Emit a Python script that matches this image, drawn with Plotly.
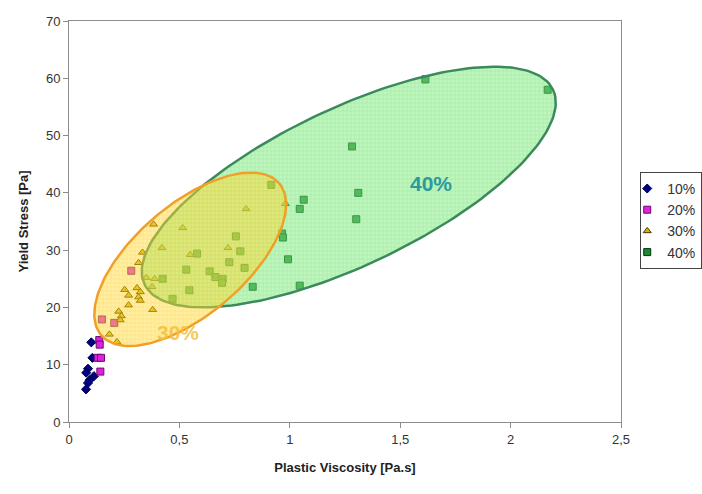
import numpy as np
import plotly.graph_objects as go

# ---------------- data ----------------
x10 = [0.101, 0.106, 0.086, 0.078, 0.113, 0.093, 0.086, 0.077]
y10 = [13.9, 11.2, 9.3, 8.6, 8.0, 7.3, 6.8, 5.7]

x20 = [0.282, 0.149, 0.205, 0.137, 0.139, 0.130, 0.145, 0.142]
y20 = [26.4, 17.9, 17.3, 14.3, 13.5, 11.2, 11.2, 8.8]

x30 = [0.383, 0.515, 0.802, 0.980, 0.421, 0.333, 0.549, 0.720, 0.315, 0.350,
       0.388, 0.376, 0.252, 0.270, 0.308, 0.323, 0.315, 0.323, 0.270, 0.379,
       0.225, 0.237, 0.232, 0.183, 0.217]
y30 = [34.5, 33.9, 37.2, 38.1, 30.4, 29.6, 29.2, 30.4, 27.8, 25.2,
       25.0, 23.6, 23.1, 22.1, 23.4, 22.7, 21.8, 21.2, 20.4, 19.6,
       19.3, 18.5, 17.8, 15.3, 14.0]

x40 = [0.916, 0.756, 0.776, 0.580, 0.531, 0.726, 0.795, 0.637, 0.663, 0.696,
       0.693, 0.424, 0.545, 0.469, 0.965, 0.969, 0.992, 0.832, 1.063, 1.045,
       1.310, 1.301, 1.045, 1.614, 2.168, 1.282]
y40 = [41.4, 32.4, 29.8, 29.4, 26.6, 27.9, 26.9, 26.3, 25.3, 25.0,
       24.3, 25.0, 23.0, 21.5, 32.9, 32.2, 28.4, 23.6, 38.8, 37.2,
       40.0, 35.4, 23.8, 59.8, 58.0, 48.1]

series_names = ["10%", "20%", "30%", "40%"]
x_ticks = [0, 0.5, 1, 1.5, 2, 2.5]
y_ticks = [0, 10, 20, 30, 40, 50, 60, 70]

# ellipse envelopes (centre, semi-axis vectors in data units)
ell40_center = (1.267, 41.02)
ell40_u = (0.925, 17.0)
ell40_v = (-0.153, 12.34)
ell30_center = (0.549, 28.40)
ell30_u = (0.403, 13.26)
ell30_v = (-0.162, 7.30)


def ellipse(c, u, v, n=200):
    t = np.linspace(0, 2 * np.pi, n)
    ex = c[0] + u[0] * np.cos(t) + v[0] * np.sin(t)
    ey = c[1] + u[1] * np.cos(t) + v[1] * np.sin(t)
    return ex, ey


FONT = "Liberation Sans, Arial, sans-serif"

fig = go.Figure()

fig.add_trace(go.Scatter(x=x10, y=y10, mode="markers", name=series_names[0],
                         marker=dict(symbol="diamond", size=7, color="#000080",
                                     line=dict(color="#000050", width=1))))
fig.add_trace(go.Scatter(x=x20, y=y20, mode="markers", name=series_names[1],
                         marker=dict(symbol="square", size=7, color="#e020e0",
                                     line=dict(color="#6a0a6a", width=1))))
fig.add_trace(go.Scatter(x=x30, y=y30, mode="markers", name=series_names[2],
                         marker=dict(symbol="triangle-up", size=7, color="#d8b400",
                                     line=dict(color="#4a3300", width=1))))
fig.add_trace(go.Scatter(x=x40, y=y40, mode="markers", name=series_names[3],
                         marker=dict(symbol="square", size=7, color="#1c8a34",
                                     line=dict(color="#003310", width=1))))

# ellipses drawn over the points, translucent
gx, gy = ellipse(ell40_center, ell40_u, ell40_v)
fig.add_trace(go.Scatter(x=gx, y=gy, mode="lines", fill="toself", showlegend=False,
                         hoverinfo="skip",
                         line=dict(color="#3a8a5c", width=2.5),
                         fillcolor="rgba(122,233,122,0.5)",
                         fillpattern=dict(shape="+", size=4, solidity=0.35,
                                          bgcolor="rgba(130,236,130,0.5)",
                                          fgcolor="rgba(60,205,60,0.4)")))
ox, oy = ellipse(ell30_center, ell30_u, ell30_v)
fig.add_trace(go.Scatter(x=ox, y=oy, mode="lines", fill="toself", showlegend=False,
                         hoverinfo="skip",
                         line=dict(color="#f0a028", width=2.5),
                         fillcolor="rgba(255,215,40,0.5)",
                         fillpattern=dict(shape="+", size=4, solidity=0.35,
                                          bgcolor="rgba(255,218,50,0.45)",
                                          fgcolor="rgba(250,190,20,0.45)")))

fig.add_annotation(x=1.641, y=41.67, text="<b>40%</b>", showarrow=False,
                   font=dict(family=FONT, size=21, color="#2a9a9a"))
fig.add_annotation(x=0.495, y=15.66, text="<b>30%</b>", showarrow=False,
                   font=dict(family=FONT, size=21, color="rgba(245,190,60,0.85)"))

axis_common = dict(showgrid=False, zeroline=False, showline=True, mirror=True,
                   linecolor="#8c8c8c", linewidth=1, ticks="outside", ticklen=5,
                   tickcolor="#8c8c8c", tickfont=dict(family=FONT, size=13, color="#333333"))

fig.update_layout(
    width=702, height=494,
    margin=dict(l=69, r=81, t=21, b=72, autoexpand=False),
    paper_bgcolor="white", plot_bgcolor="white",
    separators=", ",
    font=dict(family=FONT),
    xaxis=dict(range=[0, 2.5], tickvals=x_ticks,
               title=dict(text="<b>Plastic Viscosity [Pa.s]</b>", standoff=17,
                          font=dict(family=FONT, size=13, color="#222222")),
               **axis_common),
    yaxis=dict(range=[0, 70], tickvals=y_ticks,
               title=dict(text="<b>Yield Stress [Pa]</b>", standoff=14,
                          font=dict(family=FONT, size=13, color="#222222")),
               **axis_common),
    legend=dict(xref="container", yref="container", x=0.912, y=0.652,
                xanchor="left", yanchor="top", indentation=-14,
                bordercolor="#444444", borderwidth=1, bgcolor="white",
                font=dict(family=FONT, size=14, color="#333333"),
                itemwidth=30, tracegroupgap=0),
)

fig.write_html("out.html")
